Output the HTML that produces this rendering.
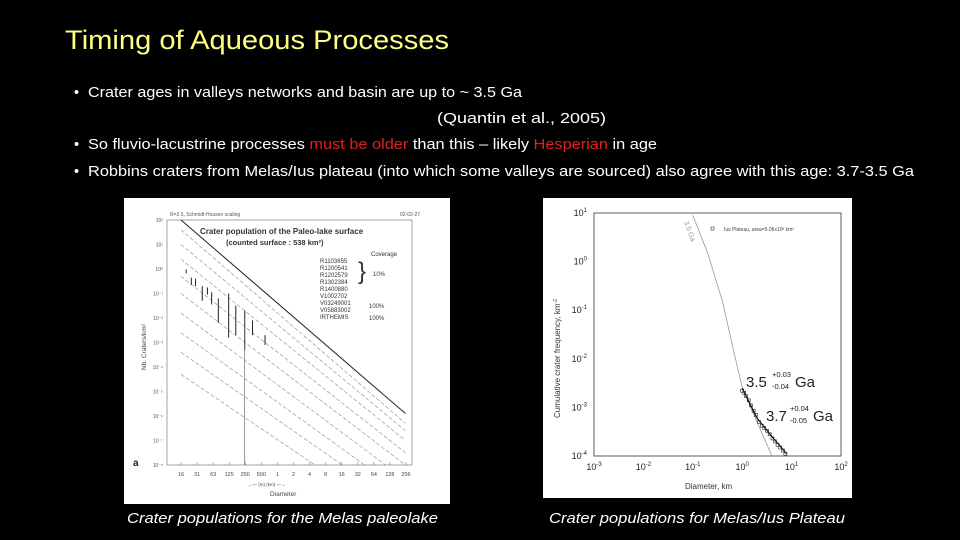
<!DOCTYPE html>
<html><head><meta charset="utf-8"><style>
html,body{margin:0;padding:0;background:#000;width:960px;height:540px;overflow:hidden}
svg{display:block}
text{font-family:"Liberation Sans",sans-serif}
</style></head><body>
<svg id="s" width="960" height="540" viewBox="0 0 960 540">
<defs><clipPath id="lclip"><rect x="167" y="220" width="245" height="245"/></clipPath></defs>
<rect width="960" height="540" fill="#000"/>
<text x="65" y="49" font-size="27" fill="#ffff80" textLength="384" lengthAdjust="spacingAndGlyphs">Timing of Aqueous Processes</text>
<g font-size="14.5" fill="#fff">
<text x="74" y="97">•</text>
<text x="88" y="97" textLength="434" lengthAdjust="spacingAndGlyphs">Crater ages in valleys networks and basin are up to ~ 3.5 Ga</text>
<text x="437" y="123" textLength="169" lengthAdjust="spacingAndGlyphs">(Quantin et al., 2005)</text>
<text x="74" y="149">•</text>
<text x="88" y="149" textLength="569" lengthAdjust="spacingAndGlyphs">So fluvio-lacustrine processes <tspan fill="#e02020">must be older</tspan> than this – likely <tspan fill="#e02020">Hesperian</tspan> in age</text>
<text x="74" y="176">•</text>
<text x="88" y="176" textLength="826" lengthAdjust="spacingAndGlyphs">Robbins craters from Melas/Ius plateau (into which some valleys are sourced) also agree with this age: 3.7-3.5 Ga</text>
</g>
<g id="left">
<rect x="124" y="198" width="326" height="306" fill="#fff"/>
<text x="170" y="216" font-size="5" fill="#555">R=2.5, Schmidt-Housen scaling</text>
<text x="400" y="216" font-size="5" fill="#555">02-02-27</text>
<rect x="167" y="220" width="245" height="245" fill="none" stroke="#666" stroke-width="0.6"/>
<text x="200" y="234" font-size="8" font-weight="bold" fill="#333" font-family="Liberation Serif">Crater population of the Paleo-lake surface</text>
<text x="226" y="245" font-size="7.5" font-weight="bold" fill="#333" font-family="Liberation Serif">(counted surface : 538 km²)</text>
<g font-family="Liberation Serif" font-size="6" fill="#333">
<text x="371" y="256">Coverage</text>
<text x="320" y="263">R1103655</text><text x="320" y="270">R1200541</text><text x="320" y="277">R1202579</text><text x="320" y="284">R1302384</text><text x="320" y="291">R1400880</text>
<text x="320" y="298">V1002702</text><text x="320" y="305">V03249001</text><text x="320" y="312">V05883002</text><text x="320" y="319">IRTHEMIS</text>
<text x="373" y="276">10%</text><text x="369" y="308">100%</text><text x="369" y="320">100%</text>
<text x="358" y="279" font-size="24">}</text>
</g>
<text x="270" y="496" font-size="6.5" fill="#444">Diameter</text>
<text transform="translate(146,370) rotate(-90)" font-size="6.5" fill="#444">Nb. Craters/km²</text>
<text x="133" y="466" font-size="10" font-weight="bold" fill="#222">a</text>
<g id="lax"></g>
<g id="lplot" clip-path="url(#lclip)"></g>
</g>
<g id="right">
<rect x="543" y="198" width="309" height="300" fill="#fff"/>
<rect x="594" y="213" width="247" height="243" fill="none" stroke="#333" stroke-width="0.8"/>
<text x="685" y="489" font-size="8" fill="#333">Diameter, km</text>
<text transform="translate(560,418) rotate(-90)" font-size="8" fill="#333">Cumulative crater frequency, km<tspan dy="-3" font-size="5">-2</tspan></text>
<rect x="711" y="227" width="3" height="3" fill="none" stroke="#333" stroke-width="0.6"/>
<text x="724" y="231" font-size="5" fill="#444">Ius Plateau, area=5.06x10³ km²</text>
<text transform="translate(684,222) rotate(70)" font-size="7" fill="#999">3.5 Ga</text>
<text x="746" y="387" font-size="15" fill="#222">3.5</text><text x="772" y="377" font-size="7.5" fill="#222">+0.03</text><text x="772" y="389" font-size="7.5" fill="#222">-0.04</text><text x="795" y="387" font-size="15" fill="#222">Ga</text>
<text x="766" y="421" font-size="15" fill="#222">3.7</text><text x="790" y="411" font-size="7.5" fill="#222">+0.04</text><text x="790" y="423" font-size="7.5" fill="#222">-0.05</text><text x="813" y="421" font-size="15" fill="#222">Ga</text>
<g id="rax"></g>
</g>
<text x="127" y="523" font-size="14.5" font-style="italic" fill="#fff" textLength="311" lengthAdjust="spacingAndGlyphs">Crater populations for the Melas paleolake</text>
<text x="549" y="523" font-size="14.5" font-style="italic" fill="#fff" textLength="296" lengthAdjust="spacingAndGlyphs">Crater populations for Melas/Ius Plateau</text>
</svg>
<script>
// ---- left chart data ----
const leftXLabels=["16","31","63","125","250","500","1","2","4","8","16","32","64","128","256"];
const leftYExps=[2,1,0,-1,-2,-3,-4,-5,-6,-7,-8];
// isochrons: [logN at 16 m, logN at 256 km]
const isoStart=[2,1.6,1.0,0.4,-0.3,-1.0,-1.8,-2.6,-3.4,-4.3];
const isoEnd=[-5.9,-6.3,-6.6,-7.0,-7.5,-8,-8.6,-9.2,-9.8,-10.5];
// crater counts: diameter (m), logN, error (decades)
const cratD=[20,25,30,40,50,60,80,125,170,250,350,600];
const cratN=[-0.1,-0.5,-0.55,-1.0,-0.9,-1.2,-1.7,-1.9,-2.1,-2.5,-2.4,-2.9];
const cratE=[0.08,0.15,0.15,0.3,0.15,0.25,0.5,0.9,0.6,0.8,0.3,0.2];
// ---- right chart data ----
const rightXExps=[-3,-2,-1,0,1,2];
const rightYExps=[1,0,-1,-2,-3,-4];
const isoD=[0.1,0.2,0.4,0.7,1,2,4];
const isoF=[9,1.5,0.15,0.012,2.6e-3,5e-4,1e-4];
const fitD=[1,2,4,8];
const fitF=[2.5e-3,6e-4,2.5e-4,1.1e-4];
const ptsD=[1,1.1,1.2,1.35,1.5,1.7,1.9,2.2,2.5,2.8,3.2,3.6,4.1,4.6,5.2,5.9,6.7,7.5];
const ptsF=[2.2e-3,2e-3,1.7e-3,1.4e-3,1.1e-3,8.5e-4,7e-4,5e-4,4.2e-4,3.8e-4,3.3e-4,2.8e-4,2.3e-4,2e-4,1.7e-4,1.5e-4,1.3e-4,1.1e-4];

const NS="http://www.w3.org/2000/svg";
function mk(p,t,a){const e=document.createElementNS(NS,t);for(const k in a)e.setAttribute(k,a[k]);p.appendChild(e);return e;}
const sup=['⁰','¹','²','³','⁴','⁵','⁶','⁷','⁸'];
// left axes
const lx=d=>181+Math.log2(d/16)*16.07;
const ly=v=>220+(2-v)*24.5;
const L=document.getElementById('lax');
const LP=document.getElementById('lplot');
leftXLabels.forEach((s,i)=>{const t=mk(L,'text',{x:181+i*16.07,y:476,'font-size':5.5,fill:'#444','text-anchor':'middle'});t.textContent=s;

mk(L,'line',{x1:181+i*16.07,y1:465,x2:181+i*16.07,y2:462,stroke:'#666','stroke-width':0.5});});
mk(L,'text',{x:248,y:486,'font-size':4.5,fill:'#444'}).textContent='←— (m)   (km) —→';
leftYExps.forEach(e=>{const t=mk(L,'text',{x:163,y:ly(e)+2,'font-size':5,fill:'#555','text-anchor':'end'});t.textContent='10'+(e<0?'⁻':'')+sup[Math.abs(e)];
});
isoStart.forEach((s,i)=>{const x0=lx(16),x1=lx(256000);const l=mk(LP,'line',{x1:x0,y1:ly(s),x2:x1,y2:ly(isoEnd[i]),stroke:i==0?'#222':'#888','stroke-width':i==0?1:0.6,'stroke-dasharray':i==0?'':'4 2'});
});
cratD.forEach((d,i)=>{const x=lx(d);const l=mk(LP,'line',{x1:x,y1:ly(cratN[i]+cratE[i]),x2:x,y2:ly(cratN[i]-cratE[i]),stroke:'#222','stroke-width':1});
});
mk(LP,'line',{x1:lx(250),y1:ly(-2),x2:lx(250),y2:465,stroke:'#555','stroke-width':0.6});
// right axes
const rx=d=>594+(Math.log10(d)+3)*49.4;
const ry=f=>213+(1-Math.log10(f))*48.6;
const R=document.getElementById('rax');
rightXExps.forEach(e=>{const t=mk(R,'text',{x:rx(Math.pow(10,e)),y:470,'font-size':9,fill:'#222','text-anchor':'middle'});t.innerHTML='10<tspan dy="-4" font-size="6">'+e+'</tspan>';
});
rightYExps.forEach(e=>{const t=mk(R,'text',{x:587,y:ry(Math.pow(10,e))+3,'font-size':9,fill:'#222','text-anchor':'end'});t.innerHTML='10<tspan dy="-4" font-size="6">'+e+'</tspan>';
});
const iso=mk(R,'polyline',{points:isoD.map((d,i)=>rx(d)+','+ry(isoF[i])).join(' '),fill:'none',stroke:'#999','stroke-width':0.8});

const fit=mk(R,'polyline',{points:fitD.map((d,i)=>rx(d)+','+ry(fitF[i])).join(' '),fill:'none',stroke:'#111','stroke-width':1.2});

ptsD.forEach((d,i)=>{const r=mk(R,'rect',{x:rx(d)-1.5,y:ry(ptsF[i])-1.5,width:3,height:3,fill:'none',stroke:'#222','stroke-width':0.6});
});
</script>
</body></html>
